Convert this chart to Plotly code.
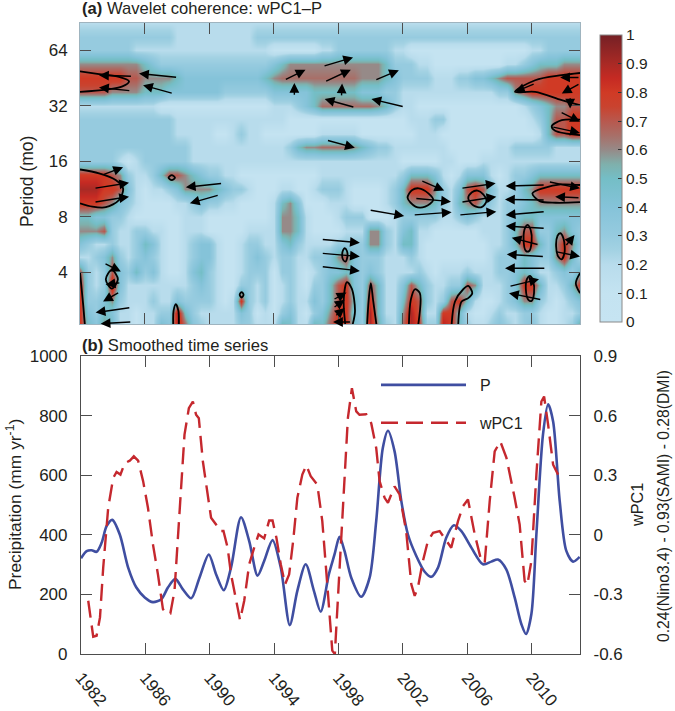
import math
import numpy as np
import plotly.graph_objects as go

# ---------- panel (b) series ----------
p_year = [1982.0,1982.35,1982.66,1982.97,1983.28,1983.59,1983.94,1984.41,1984.93,1985.44,1985.96,1986.47,1986.99,1987.4,1987.86,1988.33,1988.85,1989.36,1989.94,1990.39,1990.87,1991.32,1991.94,1992.45,1992.97,1993.38,1993.9,1994.41,1994.97,1995.44,1995.96,1996.47,1996.89,1997.4,1997.75,1998.06,1998.37,1998.79,1999.41,1999.93,2000.34,2000.75,2001.07,2001.48,2001.9,2002.31,2002.83,2003.35,2003.76,2004.18,2004.69,2005.17,2005.63,2006.25,2006.97,2007.49,2007.9,2008.42,2008.94,2009.36,2009.65,2009.98,2010.29,2010.7,2011.02,2011.33,2011.74,2012.15,2012.57,2012.98]
p_vals = [321,345,348,343,373,429,450,401,290,223,190,174,184,223,252,217,187,256,334,268,214,290,459,379,263,312,382,290,97,212,301,212,142,268,334,393,346,256,192,256,446,691,749,680,513,401,329,276,259,290,390,432,412,357,301,310,317,284,190,100,67,134,401,736,838,780,513,346,310,326]

w_year = [1982.45,1982.6,1982.76,1982.97,1983.18,1983.38,1983.69,1984.0,1984.21,1984.45,1984.72,1985.03,1985.28,1985.55,1985.86,1986.16,1986.47,1986.78,1987.09,1987.3,1987.55,1987.81,1988.12,1988.43,1988.7,1988.95,1989.15,1989.32,1989.57,1989.88,1990.08,1990.39,1990.64,1990.85,1991.11,1991.32,1991.63,1991.88,1992.14,1992.45,1992.76,1993.03,1993.38,1993.69,1993.9,1994.14,1994.41,1994.68,1994.93,1995.18,1995.44,1995.75,1996.0,1996.27,1996.68,1996.99,1997.3,1997.61,1997.77,1997.96,1998.27,1998.58,1998.83,1999.1,1999.3,1999.72,2000.03,2000.34,2000.55,2000.86,2001.07,2001.48,2001.79,2002.2,2002.52,2002.73,2002.93,2003.24,2003.55,2003.87,2004.28,2004.69,2005.0,2005.42,2005.73,2006.04,2006.46,2006.87,2007.08,2007.39,2007.7,2008.05,2008.43,2008.94,2009.25,2009.56,2009.73,2009.98,2010.29,2010.6,2010.77,2011.02,2011.33,2011.64]
w_vals = [-.332,-.433,-.513,-.508,-.416,-.165,.136,.286,.316,.303,.361,.373,.395,.373,.27,.136,-.048,-.199,-.374,-.396,-.396,-.282,.102,.504,.637,.671,.604,.587,.37,.186,.086,.052,.019,.019,-.065,-.199,-.332,-.429,-.332,-.148,-.065,.002,-.018,.072,.072,-.015,-.148,-.249,-.199,-.031,.186,.303,.35,.295,.253,.069,-.249,-.583,-.6,-.332,.169,.587,.738,.621,.604,.607,.562,.437,.27,.186,.161,.244,.203,.019,-.249,-.307,-.266,-.132,-.031,.01,.019,-.031,-.065,.069,.144,.178,.002,-.132,-.14,.169,.42,.47,.387,.186,.052,-.232,-.252,-.132,.303,.671,.696,.554,.353,.303]

# ---------- panel (a) coherence, tenths, read on a half-year / quarter-octave grid ----------
coh_year = [1982 + 0.5*i for i in range(63)]
coh_period = [2,2.4,2.8,3.4,4,4.8,5.7,6.7,8,9.5,11.3,13.5,16,19,22.6,27,32,38,45,54,64,76,90]
r90 = [2,2,2,2,2,2,2,2,2,2, 2,2,2,2,2,2,2,2,2,2, 2,2,2,2,2,2,2,2,2,2, 2,2,2,2,2,2,2,2,2,2, 2,2,2,2,2,2,2,2,2,2, 2,2,2,2,2,2,2,2,2,2, 2,2,2]
r76 = [3,3,3,3,3,3,3,3,3,3, 3,3,2,2,2,2,2,2,2,2, 2,2,3,3,3,3,3,3,3,3, 3,3,3,3,3,3,3,3,3,3, 3,3,3,3,3,3,3,3,3,3, 3,3,3,3,3,3,3,3,3,3, 3,3,3]
r64 = [3,3,3,3,3,3,3,2,2,2, 2,2,2,2,2,2,2,2,2,2, 2,2,2,2,1,1,1,1,1,1, 2,2,3,3,3,3,3,3,3,2, 2,1,1,1,1,1,1,1,1,1, 1,1,1,1,1,1,2,2,3,3, 3,3,3]
r54 = [6,6,6,6,6,6,6,6,5,4, 3,3,3,3,3,3,3,3,3,3, 3,3,3,3,4,5,6,6,6,6, 6,6,6,6,6,6,6,6,5,3, 3,3,2,2,1,1,1,1,1,1, 1,1,1,2,2,3,4,5,5,5, 6,6,6]
r45 = [8,8,8,8,8,8,7,7,6,6, 6,6,5,4,4,4,4,4,4,4, 4,4,4,5,6,6.5,6.5,6.5,6.5,6.5, 6.5,6.5,6.5,6.5,6.5,6,6,6,5,4, 3,3,3,3,2,2,2,3,3,4, 4,5,6,7,7,7,7,7,8,8, 8,8,8]
r38 = [7,7,7,7,6,6,6,6,5,5, 5,4,4,4,4,4,4,4,3,3, 3,3,3,3,4,4,4,4,4,5, 5,5,5,5,5,4,4,4,3,3, 2,2,2,2,2,2,2,2,2,2, 2,2,3,3,6,7,8,8,8,8, 8,8,8]
r32 = [2,2,2,2,2,2,2,2,2,2, 1,1,1,1,1,1,1,1,1,1, 1,1,1,1,2,2,2,3,4,5, 6.5,6.5,6.5,6.5,6.5,6.5,6.5,6,5,3, 2,2,1,1,1,1,1,1,1,1, 1,1,1,1,1,2,3,4,5,6, 6,7,7]
r27 = [3,3,3,3,3,3,3,3,3,3, 3,3,2,2,2,2,2,2,2,2, 2,2,2,2,2,2,1,1,1,1, 1,1,1,1,1,1,1,1,1,1, 1,2,2,2,3,3,1,1,1,1, 1,1,1,1,1,1,2,3,5,7, 7,8,8]
r22 = [3,3,3,3,3,3,3,3,3,3, 3,3,2,2,2,2,2,1,1,2, 3,2,2,1,1,1,1,1,1,1, 2,2,2,2,2,1,1,1,1,1, 1,1,2,2,2,1,1,1,1,1, 1,1,1,1,1,1,1,2,5,7, 7,8,8]
r19 = [3,3,3,3,3,3,3,3,3,3, 3,3,3,3,2,2,2,2,2,2, 2,2,2,2,2,2,3,5,6,6, 6.5,6.5,6.5,6.5,6,5,4,3,3,2, 2,2,2,2,2,2,1,1,1,1, 1,1,2,2,3,3,3,3,3,2, 2,2,2]
r16 = [3,3,3,3,3,2,1,2,3,3, 3,3,3,3,2,2,2,2,2,2, 2,2,2,2,2,2,2,2,2,2, 2,2,2,2,2,2,2,2,2,2, 1,1,1,1,1,2,2,1,1,1, 2,2,2,2,2,2,2,2,2,2, 2,2,2]
r13 = [8,8,8,8,7,6,3,2,2,3, 5,7,7,6,5,4,3,3,2,2, 1,1,1,1,1,1,1,1,1,1, 2,2,2,2,2,2,2,2,2,2, 3,5,5,5,4,2,1,2,4,4, 4,2,1,2,3,3,4,5,5,5, 5,5,5]
r11 = [9,9,9,8,8,7,4,2,1,2, 2,3,4,6,6,6,6,5,4,3, 3,2,1,1,1,2,2,1,1,2, 3,3,3,2,1,1,1,1,2,3, 5,8,8,8,6,3,2,4,7,8, 7,4,2,2,3,5,6,8,8,8, 8,8,8]
r9 = [8,8,8,7,6,4,3,2,1,1, 1,1,2,2,3,4,3,3,2,2, 1,1,1,1,2,5,6,4,1,1, 1,2,2,2,1,1,1,1,2,3, 5,6,6,6,5,3,2,5,6,7, 5,3,2,3,3,4,5,6,6,6, 6,6,6]
r8 = [5,5,4,4,3,3,2,1,1,1, 1,1,1,2,2,2,1,1,1,1, 1,1,1,1,2,6,6,5,2,1, 1,1,2,3,3,3,1,1,1,2, 3,3,3,3,3,2,2,3,4,3, 2,2,2,3,4,5,5,4,4,4, 4,4,4]
r6 = [6,6,6,7,3,2,2,3,3,2, 2,1,1,2,2,2,1,1,1,1, 1,2,2,2,2,6,6,5,2,1, 1,1,1,2,2,2,6,6,3,2, 4,5,2,2,1,1,1,1,1,1, 2,2,2,3,5,7,7,3,3,5, 6,4,3]
r5 = [4,3,2,2,3,2,2,3,5,4, 2,1,1,2,3,4,4,2,1,1, 2,3,3,2,2,4,5,3,2,2, 2,2,3,3,3,3,6,6,3,2, 5,5,2,1,1,1,1,1,1,1, 1,2,2,3,5,8,8,5,3,6, 8,6,3]
r4h = [2,2,3,4,6,3,2,3,4,3, 2,1,1,2,3,4,4,2,1,1, 2,3,4,3,2,3,3,2,2,3, 3,4,6,7,4,3,3,3,2,2, 2,3,2,1,1,1,1,1,1,1, 1,2,3,3,3,5,4,3,3,6, 8,5,2]
r4 = [7,3,2,3,7,4,3,5,3,4, 2,1,1,2,4,5,3,2,1,1, 2,3,3,3,1,3,3,2,1,2, 3,4,4,5,4,3,4,3,2,2, 2,2,3,2,1,2,2,2,3,2, 2,2,3,3,4,5,4,2,2,3, 4,3,5]
r3h = [8,3,2,3,9,4,2,2,2,2, 2,2,2,2,3,4,3,2,1,1, 3,3,2,3,1,2,3,2,1,3, 3,5,7,8,4,3,7,5,2,2, 4,7,5,3,2,2,3,3,7,6, 2,2,2,3,4,8,8,5,2,2, 3,5,8]
r2h = [8,3,3,4,6,3,2,2,2,3, 2,2,4,3,3,3,3,2,1,2, 8,3,2,3,1,2,3,2,2,4, 3,5,7,8,5,3,8,5,2,2, 5,8,7,3,2,3,7,8,5,2, 1,1,2,3,4,6,6,3,2,1, 2,3,4]
r2q = [8,4,3,5,4,2,2,1,2,2, 3,3,9,5,3,2,2,2,2,2, 4,3,1,2,1,3,4,2,1,3, 4,6,8,8,4,3,9,5,2,2, 6,9,7,2,2,8,8,5,2,1, 1,2,3,2,2,3,3,2,1,1, 2,2,3]
r2 = [8,5,4,6,5,2,2,1,2,2, 5,4,9,7,4,3,2,2,2,2, 3,3,2,2,2,6,5,2,2,6, 5,7,8,8,5,3,9,6,3,2, 7,9,8,3,3,9,8,5,3,2, 2,3,4,3,2,3,4,2,1,1, 2,3,7]
coh_rows = [r2,r2q,r2h,r3h,r4,r4h,r5,r6,r8,r9,r11,r13,r16,r19,r22,r27,r32,r38,r45,r54,r64,r76,r90]

# significance contours: year, log2(period)
contours = [
 ([1982,1983.18,1984.42,1985.04,1984.63,1983.6,1982],[5.62,5.57,5.52,5.44,5.35,5.29,5.25]),
 ([1982,1983.18,1984.21,1984.67,1984.42,1983.6,1982.77,1982],[3.85,3.78,3.66,3.51,3.30,3.17,3.18,3.24]),
 ([1987.49,1987.69,1987.89,1987.69,1987.49],[3.70,3.75,3.70,3.66,3.70]),
 ([1983.6,1983.97,1984.35,1983.97,1983.6],[1.87,2.04,1.87,1.70,1.87]),
 ([1982.0,1982.1,1982.2,1982.3],[2.0,1.7,1.4,1.05]),
 ([1991.9,1992.02,1992.14,1992.02,1991.9],[1.59,1.64,1.59,1.54,1.59]),
 ([1987.78,1987.8,1987.94,1988.1,1988.13],[1.05,1.3,1.42,1.3,1.05]),
 ([2013,2011.87,2010.22,2008.97,2010.22,2011.87,2013],[5.59,5.55,5.46,5.25,5.25,5.1,5.01]),
 ([2013,2011.87,2011.25,2011.46,2013],[4.75,4.74,4.63,4.55,4.47]),
 ([2002.31,2002.6,2003.0,2003.6,2003.9,2003.4,2002.8,2002.31],[3.34,3.48,3.51,3.42,3.30,3.18,3.18,3.34]),
 ([2006.07,2006.3,2006.65,2007.0,2007.2,2006.9,2006.4,2006.07],[3.33,3.44,3.47,3.40,3.28,3.17,3.20,3.33]),
 ([2013,2011.8,2010.8,2010.05,2010.5,2011.5,2013],[3.57,3.58,3.52,3.42,3.28,3.25,3.26]),
 ([2009.5,2009.6,2009.75,2009.95,2010.0,2009.85,2009.65,2009.5],[2.61,2.8,2.85,2.75,2.55,2.38,2.38,2.61]),
 ([2011.52,2011.6,2011.78,2011.98,2012.04,2011.85,2011.65,2011.52],[2.46,2.65,2.70,2.6,2.35,2.23,2.28,2.46]),
 ([1998.25,1998.32,1998.42,1998.55,1998.58,1998.45,1998.32,1998.25],[2.31,2.4,2.43,2.38,2.28,2.19,2.22,2.31]),
 ([1998.45,1998.35,1998.55,1998.85,1999.05,1998.9],[1.05,1.5,1.82,1.7,1.3,1.05]),
 ([1999.8,1999.9,2000.03,2000.17,2000.38],[1.05,1.5,1.80,1.5,1.05]),
 ([2002.39,2002.51,2002.76,2003.07,2002.97],[1.05,1.5,1.69,1.62,1.05]),
 ([2005.04,2005.25,2005.76,2006.07,2006.32,2006.07,2005.66,2005.45],[1.05,1.47,1.69,1.75,1.62,1.53,1.47,1.05]),
 ([2009.64,2009.72,2009.9,2010.08,2010.15,2010.0,2009.8,2009.64],[1.70,1.88,1.93,1.85,1.62,1.48,1.5,1.70]),
 ([2013,2012.74,2013],[1.98,1.8,1.62]),
]

# phase arrows: tail year, tail log2(period), head year, head log2(period)
arrows = [
 (1985.25,5.53,1983.18,5.55),(1985.15,5.27,1983.18,5.33),(1988.05,5.51,1985.66,5.58),(1987.78,5.22,1985.91,5.37),
 (1994.67,5.46,1995.98,5.65),(1995.29,5.17,1995.29,5.41),(1997.07,5.71,1998.93,5.87),(1997.17,5.43,1998.79,5.65),
 (1998.21,5.16,1998.25,5.40),(1999.04,4.97,1997.17,5.12),(2000.28,5.46,2001.77,5.64),(2002.1,4.98,2000.07,5.12),
 (1997.28,4.38,1999.04,4.24),(1983.39,3.75,1984.67,3.89),(1982.87,3.51,1985.04,3.61),(1982.87,3.26,1985.04,3.36),
 (1990.84,3.60,1988.56,3.53),(1990.63,3.39,1988.81,3.24),(1983.49,2.16,1984.53,2.01),(1984.53,1.81,1983.59,1.77),
 (1984.46,1.64,1983.43,1.47),(1985.15,1.36,1982.97,1.27),(1985.21,1.10,1983.28,1.07),(2003.13,3.65,2004.58,3.47),
 (2002.76,3.33,2005.0,3.27),(1999.93,3.12,2002.1,3.01),(2002.66,3.03,2005.04,3.08),(2005.62,3.51,2007.77,3.60),
 (2005.62,3.26,2007.81,3.36),(2005.49,3.03,2007.81,3.09),(2010.84,3.57,2008.39,3.55),(2010.84,3.30,2008.35,3.31),
 (2011.04,3.63,2013.0,3.51),(2013.0,3.34,2011.46,3.36),(2010.84,3.09,2008.39,3.03),(2010.84,2.79,2008.39,2.83),
 (2010.46,2.49,2008.77,2.62),(2010.79,2.28,2008.46,2.32),(2010.88,2.07,2008.35,2.07),(2008.6,1.74,2010.46,1.87),
 (2010.63,1.50,2008.6,1.62),(1996.96,2.59,1999.35,2.53),(1996.96,2.34,1999.35,2.28),(1996.96,2.10,1999.35,2.02),
 (1997.69,1.50,1998.52,1.63),(1997.69,1.35,1998.41,1.50),(1997.8,1.20,1998.41,1.35),(1998.83,1.10,1997.69,1.10),
 (2012.08,2.46,2012.66,2.67),(2011.46,2.37,2013.0,2.28),(2013.0,5.51,2011.77,5.51),(2013.0,5.40,2011.87,5.22),
 (2012.39,5.16,2012.39,4.95),(2011.77,4.89,2013.0,4.71),(2011.25,4.62,2013.0,4.51),(2010.22,5.40,2008.97,5.25),
]

year_ticks = list(range(1982, 2011, 4))
period_ticks = [4,8,16,32,64]
precip_ticks = [0,200,400,600,800,1000]
wpc_ticks = [-0.6,-0.3,0,0.3,0.6,0.9]
cbar_ticks = [0,.1,.2,.3,.4,.5,.6,.7,.8,.9,1]

TXT = "#231f20"; AX = "#4d4d4d"; FONT = "Liberation Sans"
W, H = 675, 711
def px(v): return v/W
def py(v): return 1 - v/H

scale = [[0,"#c6e4f2"],[.1,"#c4e3f1"],[.2,"#b8dcec"],[.25,"#a3d2e3"],[.3,"#96cbdf"],[.4,"#85c3d9"],[.5,"#74bec6"],
         [.55,"#7fb0ac"],[.6,"#968a88"],[.65,"#a86f68"],[.7,"#b8584e"],[.75,"#c9432f"],[.8,"#d03a25"],[.85,"#c52a23"],[.9,"#a92a25"],[1,"#752025"]]

fig = go.Figure()
fig.add_trace(go.Heatmap(x=coh_year, y=coh_period, z=(np.array(coh_rows)/10).tolist(), zmin=0, zmax=1, zsmooth="best",
    colorscale=scale, xaxis="x", yaxis="y", hoverinfo="skip",
    colorbar=dict(x=px(600), xanchor="left", y=py(322), yanchor="bottom", len=287, lenmode="pixels",
                  thickness=22, thicknessmode="pixels", xpad=0, ypad=0, outlinecolor="#8a8a8a", outlinewidth=1,
                  tick0=0, dtick=0.1, ticks="inside", ticklen=4, tickcolor="#333", tickwidth=1,
                  tickfont=dict(family=FONT, size=15.5, color=TXT))))
for cx, co in contours:
    fig.add_trace(go.Scatter(x=cx, y=[2**o for o in co], mode="lines", xaxis="x", yaxis="y", showlegend=False,
                             line=dict(color="black", width=1.8, shape="spline", smoothing=0.9), hoverinfo="skip"))

fig.add_trace(go.Scatter(x=p_year, y=p_vals, mode="lines", name="&nbsp;&nbsp;P", xaxis="x2", yaxis="y2",
                         line=dict(color="#3f4ea1", width=2.6, shape="spline", smoothing=0.8), legendgroup="a"))
fig.add_trace(go.Scatter(x=w_year, y=w_vals, mode="lines", name="&nbsp;&nbsp;wPC1", xaxis="x2", yaxis="y3",
                         line=dict(color="#c5282e", width=2.4, dash="17px,8px"), legendgroup="b"))

L2 = math.log10(2)
anns = []
for x0, o0, x1, o1 in arrows:
    anns.append(dict(x=x1, y=o1*L2, ax=x0, ay=o0*L2, xref="x", yref="y", axref="x", ayref="y", text="", showarrow=True,
                     arrowhead=2, arrowsize=1.4, arrowwidth=1.4, arrowcolor="black", standoff=0, startstandoff=0))
def label(text, x, y, size=16, angle=0, anchor="center"):
    anns.append(dict(text=text, x=px(x), y=py(y), xref="paper", yref="paper", showarrow=False, textangle=angle,
                     xanchor=anchor, yanchor="middle", font=dict(family=FONT, size=size, color=TXT)))
label("<b>(a)</b> Wavelet coherence: wPC1–P", 80, 9, 16.6, anchor="left")
label("<b>(b)</b> Smoothed time series", 80, 345, 16.6, anchor="left")
label("Period (mo)", 27, 182, 17.5, -90)
label("Precipitation (mm yr<sup>-1</sup>)", 14, 505, 17.4, -90)
label("wPC1", 637, 505, 16.2, -90)
label("0.24(Nino3.4) - 0.93(SAMI) - 0.28(DMI)", 663, 506, 15.7, -90)

shapes = [dict(type="line", xref="paper", yref="paper", x0=px(600), x1=px(604), y0=py(322)+t*287/H, y1=py(322)+t*287/H,
               line=dict(color="#333", width=1)) for t in cbar_ticks[1:-1]]

tf = dict(family=FONT, size=17, color=TXT)
fig.update_layout(
    width=W, height=H, margin=dict(l=0, r=0, t=0, b=0, autoexpand=False), autosize=False,
    paper_bgcolor="white", plot_bgcolor="white", annotations=anns, shapes=shapes,
    showlegend=True,
    legend=dict(x=px(376), y=py(368), xanchor="left", yanchor="top", bgcolor="rgba(0,0,0,0)", itemwidth=85,
                tracegroupgap=14, font=dict(family=FONT, size=16, color=TXT)),
    xaxis=dict(domain=[px(80), px(580)], range=[1982, 2013], anchor="y", tickvals=year_ticks, showticklabels=False,
               ticks="inside", ticklen=11, tickcolor=AX, tickwidth=1, showline=True, linecolor="#9fb4bf", linewidth=1,
               mirror="ticks", showgrid=False, zeroline=False),
    yaxis=dict(domain=[py(324), py(23)], type="log", range=[math.log10(2.09), math.log10(90)], anchor="x",
               tickvals=period_ticks, ticktext=[str(t) for t in period_ticks], tickfont=tf, ticklabelstandoff=8,
               ticks="inside", ticklen=11, tickcolor=AX, tickwidth=1, showline=True, linecolor="#9fb4bf", linewidth=1,
               mirror="ticks", showgrid=False, zeroline=False),
    xaxis2=dict(domain=[px(81), px(580)], range=[1982, 2013], anchor="y2", tickvals=year_ticks, ticktext=[str(y) for y in year_ticks],
                tickangle=50, tickfont=tf, ticklabelstandoff=6, ticks="inside", ticklen=11, tickcolor=AX, showline=True, linecolor=AX, linewidth=1.2,
                mirror="ticks", showgrid=False, zeroline=False),
    yaxis2=dict(domain=[py(654), py(356)], range=[0, 1000], anchor="x2", tickvals=precip_ticks, tickfont=tf, ticklabelstandoff=9,
                ticks="inside", ticklen=11, tickcolor=AX, showline=True, linecolor=AX, linewidth=1.2, showgrid=False, zeroline=False),
    yaxis3=dict(domain=[py(654), py(356)], range=[-0.6, 0.9], anchor="x2", overlaying="y2", side="right", tickvals=wpc_ticks,
                ticktext=["-0.6","-0.3","0","0.3","0.6","0.9"], tickfont=tf, ticklabelstandoff=9, ticks="inside", ticklen=11, tickcolor=AX,
                showline=True, linecolor=AX, linewidth=1.2, showgrid=False, zeroline=False),
)
fig.write_html("out.html", config={"displayModeBar": False}, post_script="document.body.style.margin='0';")
